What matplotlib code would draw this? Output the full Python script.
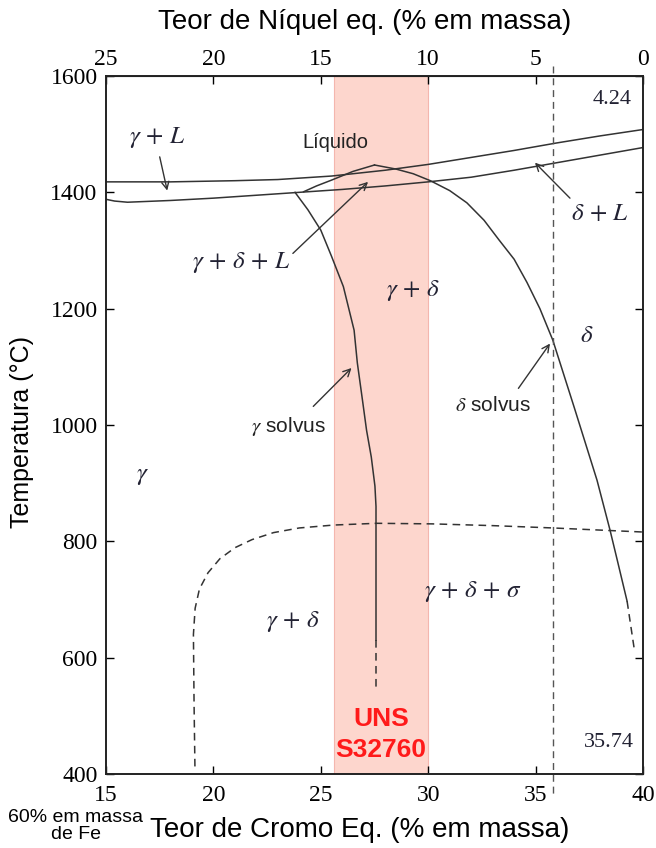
import numpy as np
import matplotlib
matplotlib.use('Agg')
import matplotlib.pyplot as plt

plt.rcParams['mathtext.fontset'] = 'stix'
plt.rcParams['font.family'] = ['Liberation Sans', 'DejaVu Sans']

# --- data (Cr eq. in wt%, temperature in C) ---
upper_cr = [15, 18, 21, 23, 25.5, 28, 30, 32, 34, 36, 38, 40]
upper_t = [1418, 1418, 1420, 1422, 1428, 1438, 1448, 1460, 1472, 1485, 1497, 1508]

lower_cr = [15, 15.4, 16, 18, 20, 22, 24, 26, 28, 30, 32, 34, 36, 38, 40]
lower_t = [1388, 1385, 1383, 1386, 1390, 1395, 1400, 1405, 1411, 1418, 1426, 1438, 1451, 1464, 1477]

peak_left_cr = [24.2, 24.8, 25.5, 26.5, 27.5]
peak_left_t = [1401, 1411, 1421, 1436, 1447]

delta_solvus_cr = [27.5, 28.5, 29.3, 30.1, 31.0, 31.8, 32.6, 33.3, 34.0, 34.6, 35.2, 35.8,
                   36.8, 37.86, 38.46, 38.8, 39.26]
delta_solvus_t = [1447, 1440, 1432, 1420, 1403, 1382, 1352, 1318, 1285, 1245, 1200, 1146,
                  1030, 905, 820, 768, 697]
delta_dash_cr = [39.26, 39.45, 39.6]
delta_dash_t = [697, 650, 613]

gamma_solvus_cr = [23.8, 24.4, 25.0, 25.5, 26.05, 26.55, 26.7, 26.95, 27.13, 27.35, 27.52, 27.57, 27.57]
gamma_solvus_t = [1400, 1370, 1335, 1290, 1238, 1163, 1107, 1040, 991, 945, 895, 860, 630]
gamma_dash_cr = [27.57, 27.57]
gamma_dash_t = [630, 548]

sigma_cr = [19.14, 19.1, 19.07, 19.15, 19.35, 19.75, 20.3, 21.0, 21.8, 22.8, 24.0, 25.6,
            27.6, 30.2, 33.0, 35.8, 40.0]
sigma_t = [413, 520, 640, 685, 718, 746, 770, 789, 803, 815, 823, 828,
           831, 830, 827, 823, 816]

alloy_cr = 35.8          # vertical composition line (35.74 Cr / 4.24 Ni)
band_cr = (25.6, 30.0)   # UNS S32760 range

x_ticks = [15, 20, 25, 30, 35, 40]
ni_ticks = [25, 20, 15, 10, 5, 0]
y_ticks = [400, 600, 800, 1000, 1200, 1400, 1600]

W, H = 656, 848
fig = plt.figure(figsize=(W / 100, H / 100), dpi=100)
ax = fig.add_axes([106 / W, 1 - 774 / H, 537 / W, 698 / H])

lc = '#333333'
dash = (0, (5, 3.5))
ax.axvspan(band_cr[0], band_cr[1], color='#fdd6cd', ec='#f4b6ae', lw=0.8, zorder=0)

ax.plot(upper_cr, upper_t, color=lc, lw=1.1)
ax.plot(lower_cr, lower_t, color=lc, lw=1.1)
ax.plot(peak_left_cr, peak_left_t, color=lc, lw=1.1)
ax.plot(delta_solvus_cr, delta_solvus_t, color=lc, lw=1.1)
ax.plot(delta_dash_cr, delta_dash_t, color=lc, lw=1.1, ls=dash)
ax.plot(gamma_solvus_cr, gamma_solvus_t, color=lc, lw=1.1)
ax.plot(gamma_dash_cr, gamma_dash_t, color=lc, lw=1.1, ls=dash)
ax.plot(sigma_cr, sigma_t, color=lc, lw=1.1, ls=dash)
ax.plot([alloy_cr, alloy_cr], [1617, 365], color='#555555', lw=1.0, ls=dash, clip_on=False)

ax.set_xlim(15, 40)
ax.set_ylim(400, 1600)
ax.set_xticks(x_ticks)
ax.set_yticks(y_ticks)
ax.tick_params(direction='in', length=6, width=1, right=True, labelsize=17)
ax.tick_params(axis='x', pad=8)
ax.tick_params(axis='y', pad=6)
for lab in ax.get_xticklabels() + ax.get_yticklabels():
    lab.set_fontfamily('Liberation Serif')
for sp in ax.spines.values():
    sp.set_linewidth(1.4)
    sp.set_color('#222222')

top = ax.secondary_xaxis('top', functions=(lambda c: 40 - c, lambda n: 40 - n))
top.set_xticks(ni_ticks)
top.tick_params(direction='in', length=6, width=1, labelsize=17, pad=4)
for lab in top.get_xticklabels():
    lab.set_fontfamily('Liberation Serif')

# labels outside the axes
fig.text(365 / W, 1 - 22 / H, 'Teor de Níquel eq. (% em massa)', ha='center', va='center', fontsize=20)
fig.text(360 / W, 1 - 830 / H, 'Teor de Cromo Eq. (% em massa)', ha='center', va='center', fontsize=20)
fig.text(76 / W, 1 - 826 / H, '60% em massa\nde Fe', ha='center', va='center', fontsize=14,
         linespacing=1.0)
fig.text(22 / W, 1 - 432 / H, 'Temperatura (°C)', ha='center', va='center', rotation=90, fontsize=18)

# region labels
mc = '#222233'
ms = 18
ax.text(38.55, 1559, '4.24', fontsize=16, family='Liberation Serif', ha='center', va='center', color=mc)
ax.text(38.4, 455, '35.74', fontsize=16, family='Liberation Serif', ha='center', va='center', color=mc)
ax.text(17.4, 1495, r'$\gamma\,+\,L$', fontsize=ms, ha='center', va='center', color=mc)
ax.text(25.7, 1485, 'Líquido', fontsize=14.5, ha='center', va='center', color='#222222')
ax.text(21.3, 1280, r'$\gamma\,+\,\delta\,+\,L$', fontsize=ms, ha='center', va='center', color=mc)
ax.text(29.3, 1232, r'$\gamma\,+\,\delta$', fontsize=ms, ha='center', va='center', color=mc)
ax.text(38.0, 1364, r'$\delta\,+\,L$', fontsize=ms, ha='center', va='center', color=mc)
ax.text(37.4, 1155, r'$\delta$', fontsize=ms, ha='center', va='center', color=mc)
ax.text(16.7, 914, r'$\gamma$', fontsize=ms, ha='center', va='center', color=mc)
ax.text(23.7, 662, r'$\gamma\,+\,\delta$', fontsize=ms, ha='center', va='center', color=mc)
ax.text(32.1, 713, r'$\gamma\,+\,\delta\,+\,\sigma$', fontsize=ms, ha='center', va='center', color=mc)
ax.text(23.5, 997, r'$\gamma$' + ' solvus', fontsize=15, ha='center', va='center', color='#222222')
ax.text(33.0, 1034, r'$\delta$' + ' solvus', fontsize=15, ha='center', va='center', color='#222222')
ax.text(27.8, 468, 'UNS\nS32760', fontsize=19, fontweight='bold', color='#ff1a1a',
        ha='center', va='center', linespacing=1.4)

arrow = dict(arrowstyle='->', lw=1.0, color=lc, shrinkA=0, shrinkB=0, mutation_scale=13)
ax.annotate('', xy=(17.85, 1403), xytext=(17.5, 1461), arrowprops=arrow)
ax.annotate('', xy=(27.2, 1418), xytext=(23.7, 1295), arrowprops=arrow)
ax.annotate('', xy=(34.97, 1451), xytext=(36.6, 1390), arrowprops=arrow)
ax.annotate('', xy=(26.43, 1098), xytext=(24.65, 1032), arrowprops=arrow)
ax.annotate('', xy=(35.67, 1140), xytext=(34.2, 1063), arrowprops=arrow)

fig.savefig('out.png', dpi=100)
